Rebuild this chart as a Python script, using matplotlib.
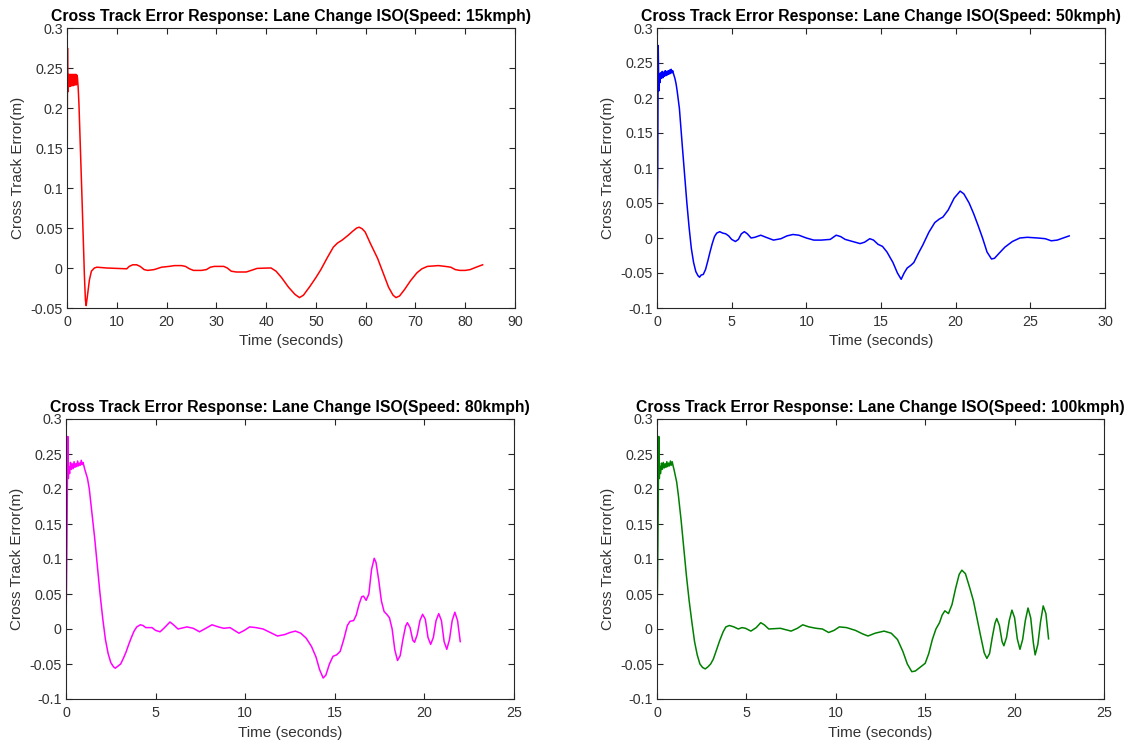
import numpy as np
import matplotlib
matplotlib.use("Agg")
import matplotlib.pyplot as plt
from matplotlib.ticker import FuncFormatter

plt.rcParams['font.family'] = ['Liberation Sans', 'DejaVu Sans']
plt.rcParams['axes.unicode_minus'] = False

# Cross track error samples (time s, error m) for each test speed
cte_15kmph = [
    (0.0, 0.0), (0.05, 0.15), (0.1, 0.275), (0.15, 0.22),
    (0.2, 0.242), (0.3, 0.226), (0.4, 0.242), (0.5, 0.227), (0.6, 0.242),
    (0.7, 0.227), (0.8, 0.242), (0.9, 0.228), (1.0, 0.242), (1.1, 0.228),
    (1.2, 0.242), (1.3, 0.228), (1.4, 0.242), (1.5, 0.229), (1.6, 0.242),
    (1.7, 0.229), (1.8, 0.242), (1.9, 0.229), (2.0, 0.241),
    (2.1, 0.238), (2.25, 0.225), (2.4, 0.205), (3.0, 0.09), (3.5, -0.01),
    (3.7, -0.04), (3.85, -0.047), (4.1, -0.035), (4.5, -0.015), (4.9, -0.004),
    (5.5, 0.0), (6.0, 0.001), (8.0, 0.0), (10.0, -0.0005), (12.0, -0.001),
    (12.5, 0.002), (13.2, 0.004), (14.0, 0.004), (14.7, 0.002), (15.5, -0.002),
    (16.2, -0.003), (17.5, -0.002), (19.0, 0.001), (20.5, 0.002), (21.6, 0.003),
    (23.0, 0.003), (23.8, 0.002), (24.6, -0.001), (25.4, -0.003), (27.0, -0.003),
    (28.0, -0.002), (28.8, 0.001), (29.6, 0.002), (31.5, 0.002), (32.2, 0.0),
    (33.0, -0.004), (34.0, -0.005), (36.0, -0.005), (37.0, -0.003), (38.2, -0.0005),
    (40.5, 0.0), (41.0, 0.0), (42.0, -0.004), (43.1, -0.012), (44.5, -0.024),
    (45.8, -0.033), (46.7, -0.037), (47.5, -0.034), (48.8, -0.023), (50.0, -0.012),
    (51.0, -0.002), (52.3, 0.013), (53.5, 0.026), (54.3, 0.031), (55.3, 0.035),
    (56.5, 0.041), (57.4, 0.046), (58.2, 0.05), (58.7, 0.051), (59.3, 0.049),
    (59.9, 0.045), (61.0, 0.03), (62.4, 0.012), (63.5, -0.006), (64.6, -0.024),
    (65.5, -0.034), (66.1, -0.037), (66.8, -0.035), (67.8, -0.027), (69.0, -0.016),
    (70.3, -0.006), (71.3, -0.001), (72.4, 0.002), (74.6, 0.003), (76.0, 0.002),
    (77.1, 0.001), (78.0, -0.002), (78.9, -0.003), (80.0, -0.003), (81.0, -0.002),
    (82.2, 0.001), (83.5, 0.004),
]

cte_50kmph = [
    (0.0, 0.0), (0.05, 0.1), (0.08, 0.275), (0.12, 0.21),
    (0.15, 0.235), (0.2, 0.222), (0.25, 0.236), (0.3, 0.228), (0.35, 0.238),
    (0.4, 0.229), (0.45, 0.237), (0.5, 0.231), (0.55, 0.239), (0.6, 0.232),
    (0.65, 0.238), (0.7, 0.233), (0.75, 0.239), (0.8, 0.234), (0.85, 0.24),
    (0.9, 0.235), (0.95, 0.241), (1.0, 0.236), (1.05, 0.239), (1.1, 0.235),
    (1.2, 0.228), (1.28, 0.22), (1.35, 0.21), (1.5, 0.185), (1.7, 0.13),
    (1.85, 0.09), (2.0, 0.05), (2.15, 0.015), (2.3, -0.015), (2.45, -0.035),
    (2.6, -0.048), (2.75, -0.054), (2.85, -0.056), (2.95, -0.053), (3.1, -0.052),
    (3.25, -0.045), (3.4, -0.033), (3.55, -0.02), (3.7, -0.008), (3.85, 0.002),
    (4.0, 0.007), (4.2, 0.009), (4.4, 0.007), (4.6, 0.006), (4.8, 0.003),
    (5.0, -0.002), (5.25, -0.005), (5.45, -0.002), (5.65, 0.006), (5.85, 0.009),
    (6.05, 0.006), (6.3, 0.0), (6.55, 0.001), (6.95, 0.004), (7.3, 0.001),
    (7.8, -0.003), (8.3, -0.001), (8.7, 0.003), (9.1, 0.005), (9.5, 0.004),
    (10.0, 0.0), (10.5, -0.003), (11.0, -0.003), (11.6, -0.002), (12.0, 0.004),
    (12.3, 0.002), (12.6, -0.002), (13.1, -0.005), (13.6, -0.008), (13.9, -0.006),
    (14.25, -0.001), (14.5, -0.003), (14.8, -0.009), (15.1, -0.012), (15.4, -0.02),
    (15.8, -0.035), (16.1, -0.05), (16.35, -0.059), (16.55, -0.05), (16.75, -0.043),
    (17.0, -0.039), (17.2, -0.035), (17.5, -0.022), (17.8, -0.01), (18.2, 0.008),
    (18.6, 0.022), (18.9, 0.027), (19.15, 0.03), (19.5, 0.04), (19.9, 0.057),
    (20.3, 0.067), (20.55, 0.063), (20.9, 0.05), (21.2, 0.035), (21.5, 0.018),
    (21.8, 0.0), (22.1, -0.02), (22.4, -0.03), (22.6, -0.029), (22.9, -0.022),
    (23.3, -0.013), (23.8, -0.005), (24.3, 0.0), (24.8, 0.001), (25.5, 0.0),
    (26.0, -0.001), (26.4, -0.004), (26.8, -0.003), (27.2, 0.0), (27.6, 0.003),
]

cte_80kmph = [
    (0.0, 0.0), (0.05, 0.12), (0.1, 0.275), (0.13, 0.215),
    (0.15, 0.232), (0.2, 0.222), (0.25, 0.238), (0.3, 0.228), (0.35, 0.236),
    (0.4, 0.229), (0.45, 0.239), (0.5, 0.231), (0.55, 0.236), (0.6, 0.232),
    (0.65, 0.24), (0.7, 0.233), (0.75, 0.237), (0.8, 0.234), (0.85, 0.241),
    (0.9, 0.235), (0.95, 0.238), (1.0, 0.233),
    (1.05, 0.228), (1.12, 0.222), (1.2, 0.215), (1.3, 0.2), (1.45, 0.165),
    (1.6, 0.13), (1.75, 0.09), (1.9, 0.05), (2.05, 0.015), (2.2, -0.015),
    (2.35, -0.035), (2.5, -0.048), (2.65, -0.054), (2.75, -0.056), (2.9, -0.053),
    (3.05, -0.05), (3.2, -0.042), (3.35, -0.033), (3.5, -0.022), (3.65, -0.012),
    (3.8, -0.003), (3.95, 0.003), (4.15, 0.006), (4.3, 0.005), (4.45, 0.002),
    (4.6, 0.002), (4.8, 0.002), (5.0, -0.002), (5.25, -0.004), (5.5, 0.002),
    (5.8, 0.01), (6.0, 0.006), (6.25, 0.0), (6.75, 0.003), (7.1, 0.001),
    (7.45, -0.004), (7.8, 0.001), (8.15, 0.006), (8.5, 0.003), (8.8, 0.001),
    (9.15, 0.002), (9.4, -0.002), (9.65, -0.006), (9.95, -0.002), (10.25, 0.003),
    (10.6, 0.002), (11.0, 0.0), (11.4, -0.005), (11.8, -0.01), (12.2, -0.008),
    (12.5, -0.005), (12.8, -0.003), (13.1, -0.006), (13.4, -0.013), (13.7, -0.025),
    (13.95, -0.04), (14.15, -0.058), (14.35, -0.07), (14.5, -0.066), (14.7, -0.05),
    (14.9, -0.039), (15.1, -0.037), (15.3, -0.032), (15.5, -0.015), (15.7, 0.005),
    (15.85, 0.011), (16.05, 0.012), (16.2, 0.02), (16.35, 0.035), (16.5, 0.046),
    (16.6, 0.047), (16.75, 0.041), (16.9, 0.05), (17.05, 0.085), (17.2, 0.101),
    (17.3, 0.095), (17.45, 0.07), (17.6, 0.04), (17.75, 0.025), (17.9, 0.021),
    (18.05, 0.016), (18.2, 0.0), (18.35, -0.03), (18.5, -0.045), (18.65, -0.038),
    (18.8, -0.015), (18.95, 0.004), (19.05, 0.009), (19.2, 0.002), (19.35, -0.016),
    (19.45, -0.019), (19.6, -0.008), (19.75, 0.012), (19.9, 0.021), (20.05, 0.014),
    (20.2, -0.012), (20.35, -0.022), (20.5, -0.012), (20.65, 0.012), (20.8, 0.022),
    (20.95, 0.012), (21.1, -0.018), (21.25, -0.029), (21.4, -0.015), (21.55, 0.012),
    (21.7, 0.024), (21.85, 0.012), (22.0, -0.018),
]

cte_100kmph = [
    (0.0, 0.0), (0.05, 0.12), (0.1, 0.275), (0.13, 0.215),
    (0.15, 0.233), (0.2, 0.222), (0.25, 0.237), (0.3, 0.228), (0.35, 0.238),
    (0.4, 0.23), (0.45, 0.236), (0.5, 0.231), (0.55, 0.239), (0.6, 0.232),
    (0.65, 0.237), (0.7, 0.233), (0.75, 0.24), (0.8, 0.234), (0.85, 0.239),
    (0.9, 0.233),
    (0.95, 0.228), (1.0, 0.222), (1.1, 0.21), (1.2, 0.19), (1.35, 0.155),
    (1.5, 0.115), (1.65, 0.075), (1.8, 0.04), (1.95, 0.01), (2.1, -0.018),
    (2.25, -0.037), (2.4, -0.05), (2.55, -0.055), (2.7, -0.057), (2.85, -0.054),
    (3.0, -0.05), (3.15, -0.043), (3.3, -0.032), (3.5, -0.017), (3.7, -0.004),
    (3.85, 0.003), (4.05, 0.005), (4.3, 0.003), (4.55, 0.0), (4.75, 0.002),
    (4.95, 0.001), (5.25, -0.003), (5.55, 0.002), (5.8, 0.009), (6.0, 0.006),
    (6.25, 0.0), (6.9, 0.001), (7.5, -0.003), (7.85, 0.001), (8.15, 0.006),
    (8.5, 0.003), (8.9, 0.001), (9.25, 0.0), (9.6, -0.005), (9.9, -0.002),
    (10.2, 0.003), (10.6, 0.002), (11.1, -0.002), (11.5, -0.007), (11.8, -0.01),
    (12.2, -0.006), (12.7, -0.003), (13.1, -0.006), (13.45, -0.015), (13.75, -0.032),
    (14.0, -0.05), (14.25, -0.061), (14.45, -0.06), (14.7, -0.055), (15.0, -0.049),
    (15.2, -0.035), (15.4, -0.015), (15.6, 0.0), (15.8, 0.009), (15.95, 0.02),
    (16.1, 0.026), (16.3, 0.022), (16.5, 0.035), (16.7, 0.058), (16.9, 0.078),
    (17.05, 0.084), (17.25, 0.079), (17.5, 0.058), (17.7, 0.04), (17.9, 0.015),
    (18.1, -0.01), (18.3, -0.034), (18.45, -0.042), (18.6, -0.035), (18.75, -0.012),
    (18.9, 0.008), (19.0, 0.015), (19.15, 0.005), (19.3, -0.018), (19.4, -0.024),
    (19.55, -0.012), (19.7, 0.012), (19.85, 0.027), (20.0, 0.016), (20.15, -0.014),
    (20.3, -0.029), (20.45, -0.015), (20.6, 0.012), (20.75, 0.03), (20.9, 0.016),
    (21.05, -0.02), (21.15, -0.037), (21.3, -0.022), (21.45, 0.01), (21.6, 0.033),
    (21.75, 0.022), (21.9, -0.014),
]

speeds = ["15kmph", "50kmph", "80kmph", "100kmph"]
series = [cte_15kmph, cte_50kmph, cte_80kmph, cte_100kmph]
colors = ["#ff0000", "#0000ff", "#ff00ff", "#008000"]
x_limits = [(0, 90), (0, 30), (0, 25), (0, 25)]
y_limits = [(-0.05, 0.3), (-0.1, 0.3), (-0.1, 0.3), (-0.1, 0.3)]
x_steps = [10, 5, 5, 5]

W, H = 1131, 745
fig = plt.figure(figsize=(W / 100, H / 100), dpi=100)
fig.patch.set_facecolor("white")

# axes boxes in pixels: left, top, right, bottom
boxes = [(67, 28, 515, 308), (657, 28, 1105, 308),
         (66, 419, 514, 699), (657, 419, 1104, 699)]

grey = "#333333"
for box, data, spd, col, xl, yl, xs in zip(boxes, series, speeds, colors,
                                          x_limits, y_limits, x_steps):
    l, t, r, b = box
    ax = fig.add_axes([l / W, 1 - b / H, (r - l) / W, (b - t) / H])
    tt, ee = np.array(data).T
    ax.plot(tt, ee, color=col, lw=1.1)
    ax.set_xlim(*xl)
    ax.set_ylim(*yl)
    ax.set_xticks(np.arange(xl[0], xl[1] + 0.001, xs))
    ax.set_yticks(np.arange(yl[0], yl[1] + 0.001, 0.05))
    ax.xaxis.set_major_formatter(FuncFormatter(lambda v, p: "%g" % round(v, 4)))
    ax.yaxis.set_major_formatter(FuncFormatter(lambda v, p: "%g" % round(v, 4)))
    ax.tick_params(direction="in", top=True, right=True, length=4, width=0.8,
                   colors="#262626", labelcolor=grey, labelsize=10.3)
    ax.tick_params(axis="x", pad=5)
    ax.tick_params(axis="y", pad=3)
    for s in ax.spines.values():
        s.set_color("#262626")
        s.set_linewidth(0.8)
    ax.set_xlabel("Time (seconds)", fontsize=11, color=grey, labelpad=4)
    ax.set_ylabel("Cross Track Error(m)", fontsize=11, color=grey, labelpad=4)
    ax.set_title("Cross Track Error Response: Lane Change ISO(Speed: %s)" % spd,
                 fontsize=11.3, fontweight="bold", color="black", pad=5)

fig.savefig("out.png", dpi=100)
